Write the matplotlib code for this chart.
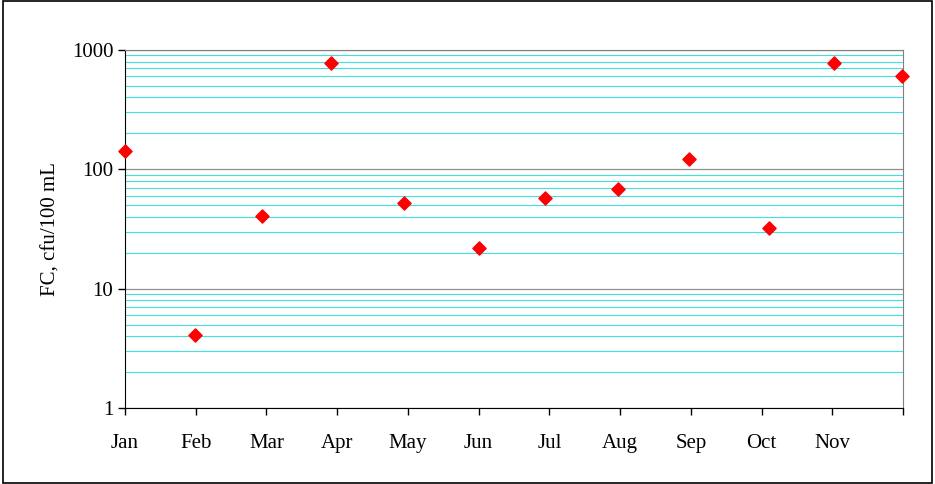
import matplotlib
matplotlib.use("Agg")
import matplotlib.pyplot as plt
from matplotlib.ticker import NullFormatter, LogLocator

months = ["Jan","Feb","Mar","Apr","May","Jun","Jul","Aug","Sep","Oct","Nov",""]
x_pos = [0.0, 0.99, 1.93, 2.91, 3.94, 5.0, 5.94, 6.97, 7.97, 9.1, 10.03, 10.98]
fc = [143, 4.1, 41, 780, 52, 22, 58, 68, 122, 32, 780, 610]

plt.rcParams['font.family'] = ['Liberation Serif']
fig = plt.figure(figsize=(9.35, 4.84), dpi=100)
ax = fig.add_axes([0.1337, 0.157, 0.8321, 0.7397])
ax.set_yscale('log')
ax.set_ylim(1, 1000)
ax.set_xlim(0, 11)
ax.yaxis.set_minor_locator(LogLocator(base=10, subs=range(2, 10)))
ax.yaxis.set_minor_formatter(NullFormatter())
ax.grid(True, which='minor', axis='y', color='#40e0e0', lw=0.8)
ax.grid(True, which='major', axis='y', color='#909090', lw=0.9)
ax.set_axisbelow(True)
ax.set_yticks([1, 10, 100, 1000])
ax.set_yticklabels(["1", "10", "100", "1000"], fontsize=15)
ax.set_xticks(range(12))
ax.set_xticklabels(months, fontsize=15)
ax.tick_params(axis='y', which='minor', length=0)
ax.tick_params(axis='both', which='major', direction='out', length=5, width=1)
ax.tick_params(axis='x', pad=14)
for s in ax.spines.values():
    s.set_color('#808080')
ax.spines['left'].set_color('black')
ax.spines['bottom'].set_color('black')
ax.scatter(x_pos, fc, marker='D', s=45, color='#ff0000', zorder=5, clip_on=False)
ax.set_ylabel("FC, cfu/100 mL", fontsize=15, labelpad=8)
fig.patches.append(plt.Rectangle((0.003, 0.003), 0.994, 0.994, transform=fig.transFigure,
                                 fill=False, edgecolor='black', lw=1.2))
fig.savefig("out.png", dpi=100)
